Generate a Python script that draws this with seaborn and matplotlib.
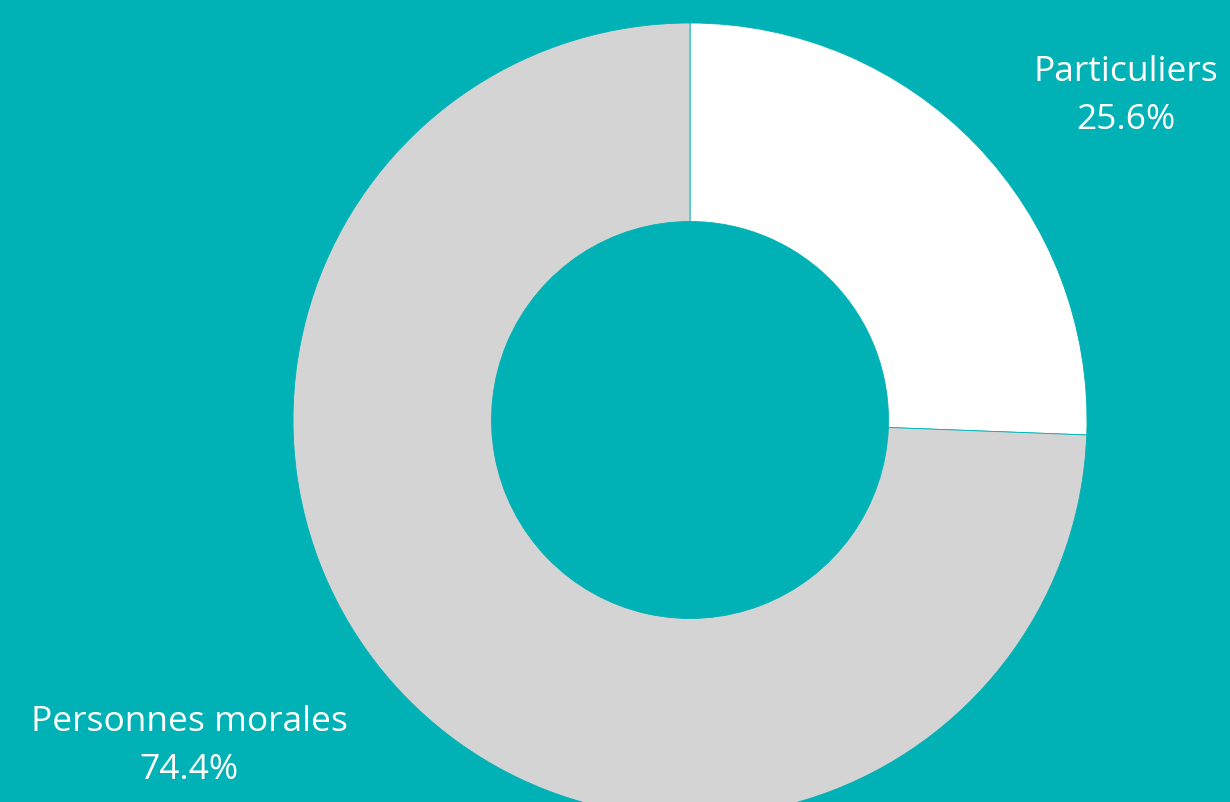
import matplotlib
matplotlib.use("Agg")
import matplotlib.pyplot as plt
import seaborn as sns

categories = ["Particuliers", "Personnes morales"]
values = [25.6, 74.4]
colors = ["#FFFFFF", "#D4D4D4"]

BG = "#00B2B5"

sns.set_theme(style="white")
plt.rcParams["font.family"] = ["Open Sans", "DejaVu Sans"]

W, H = 1230, 802
fig = plt.figure(figsize=(W / 100, H / 100), dpi=100, facecolor=BG)
ax = fig.add_axes([0, 0, 1, 1])
ax.set_facecolor(BG)

cx, cy, r = 690, H - 420, 397
ax.pie(values, colors=colors, startangle=90, counterclock=False,
       center=(cx, cy), radius=r,
       wedgeprops=dict(width=r * 0.5, edgecolor=BG, linewidth=0.6))

ax.set_xlim(0, W)
ax.set_ylim(0, H)
ax.set_aspect("auto")
ax.axis("off")

label_pos = [(1126, H - 72, H - 120), (189, H - 722, H - 770)]
for cat, val, (x, y1, y2) in zip(categories, values, label_pos):
    ax.text(x, y1, cat, ha="center", va="center", color="white", fontsize=25.5)
    ax.text(x, y2, f"{val:.1f}%", ha="center", va="center", color="white", fontsize=25.5)

fig.savefig("out.png", dpi=100, facecolor=BG)
